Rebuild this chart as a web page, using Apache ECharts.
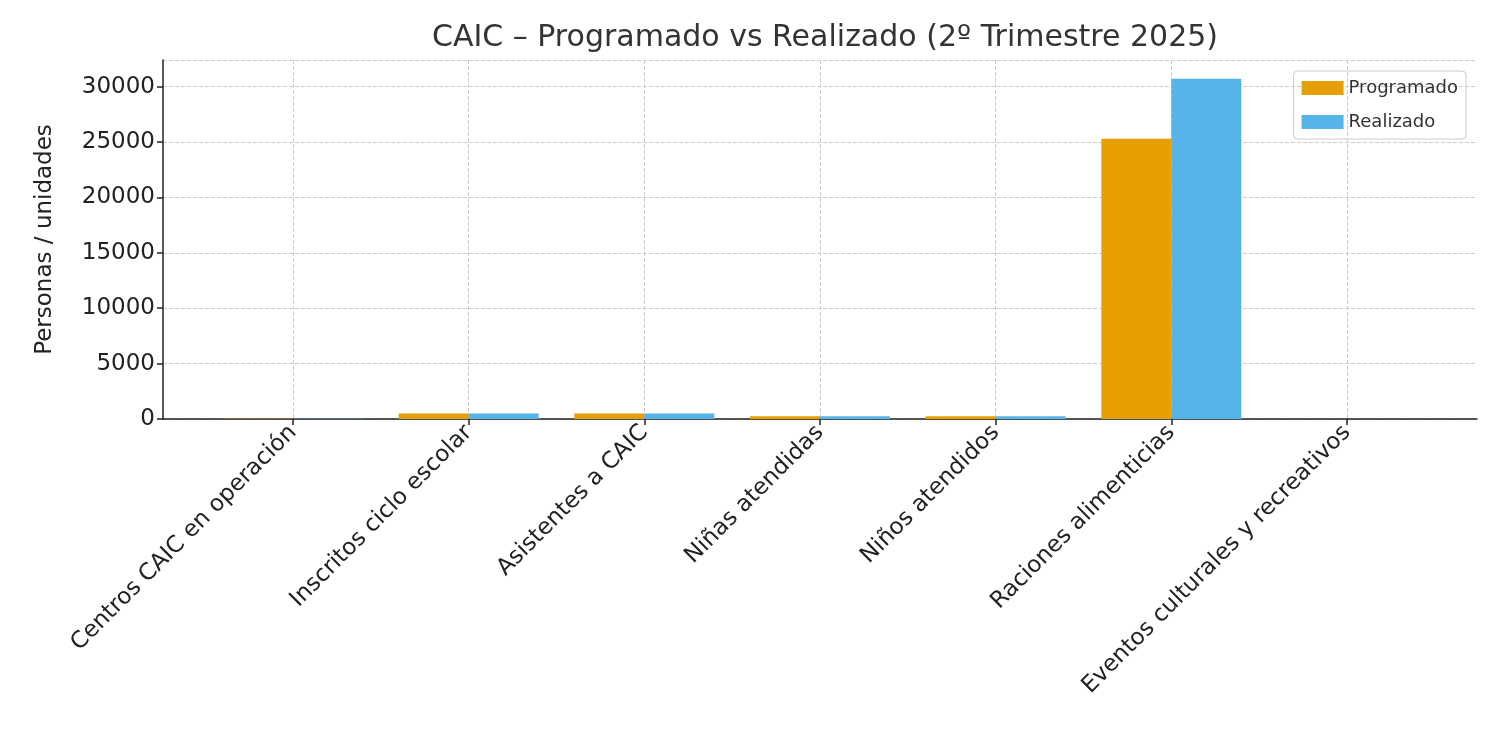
<!DOCTYPE html>
<html><head><meta charset="utf-8">
<script src="https://cdn.jsdelivr.net/npm/echarts@6/dist/echarts.min.js"></script>
<style>html,body{margin:0;background:#fff}#c{width:1500px;height:750px}</style>
</head><body><div id="c"></div>
<script>
var categories = ['Centros CAIC en operación', 'Inscritos ciclo escolar', 'Asistentes a CAIC', 'Niñas atendidas', 'Niños atendidos', 'Raciones alimenticias', 'Eventos culturales y recreativos'];
var programado = [12, 500, 500, 240, 240, 25300, 8];
var realizado = [12, 500, 500, 240, 240, 30700, 8];
var ticks = [0, 1, 2, 3, 4, 5, 6];

var chart = echarts.init(document.getElementById('c'));
var font = 'DejaVu Sans';
function pts(arr) { return arr.map(function (v, i) { return [i, v]; }); }
chart.setOption({
    textStyle: { fontFamily: font },
    title: { text: 'CAIC – Programado vs Realizado (2º Trimestre 2025)', left: 820, top: 18, textAlign: 'center',
        textStyle: { fontFamily: font, fontSize: 30, fontWeight: 'normal', color: '#333' } },
    legend: { right: 34, top: 71, orient: 'vertical', itemWidth: 42, itemHeight: 14, itemGap: 16, icon: 'rect',
        padding: [8, 8], borderColor: '#ccc', borderWidth: 1, borderRadius: 4,
        textStyle: { fontSize: 18, color: '#333' }, data: ['Programado', 'Realizado'] },
    grid: { left: 163, right: 23, top: 60, bottom: 331 },
    xAxis: { type: 'value', min: -0.74, max: 6.74, interval: 1,
        axisLine: { show: true, onZero: false, lineStyle: { color: '#222', width: 1.5 } },
        axisTick: { show: true, customValues: ticks, length: 6, lineStyle: { color: '#222', width: 1.5 } },
        splitLine: { show: true, lineStyle: { type: 'dashed', color: '#ccc' } },
        axisLabel: { rotate: 45, fontSize: 23, color: '#222', margin: 10, customValues: ticks,
            formatter: function (v) { return categories[Math.round(v)] || ''; } } },
    yAxis: { type: 'value', min: 0, max: 32400, interval: 5000, name: 'Personas / unidades',
        nameLocation: 'middle', nameGap: 106, nameTextStyle: { fontSize: 23, color: '#222' },
        axisLine: { show: true, onZero: false, lineStyle: { color: '#222', width: 1.5 } },
        axisTick: { show: true, length: 6, lineStyle: { color: '#222', width: 1.5 } },
        splitLine: { lineStyle: { type: 'dashed', color: '#ccc' } },
        axisLabel: { fontSize: 23, color: '#222', showMaxLabel: false, formatter: function (v) { return String(v); } } },
    series: [
        { name: 'Programado', type: 'bar', data: pts(programado), barWidth: 70, barGap: '0%', itemStyle: { color: '#E69F00' } },
        { name: 'Realizado', type: 'bar', data: pts(realizado), barWidth: 70, barGap: '0%', itemStyle: { color: '#56B4E9' } }
    ]
});
</script></body></html>
